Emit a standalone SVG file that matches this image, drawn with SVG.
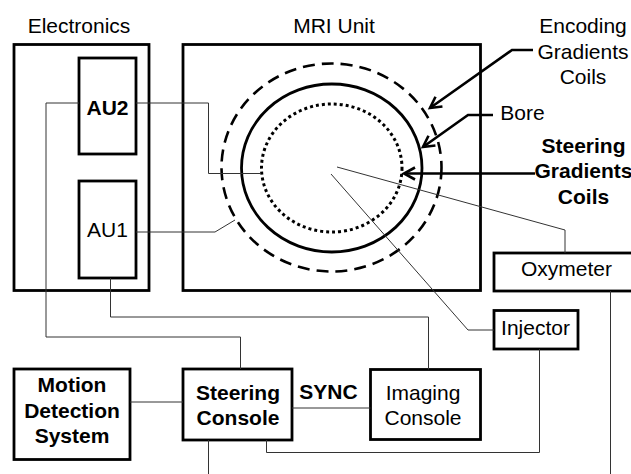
<svg xmlns="http://www.w3.org/2000/svg" width="631" height="474" viewBox="0 0 631 474">
<defs>
<style>
.box{fill:#fff;stroke:#000;stroke-width:2.8}
.t{font-family:"Liberation Sans",Arial,sans-serif;font-size:21px;fill:#000;text-anchor:middle}
.b{font-weight:bold}
.c{fill:none;stroke:#333;stroke-width:1}
.a{fill:none;stroke:#000;stroke-width:2.6}
</style>
<marker id="ah" markerUnits="userSpaceOnUse" markerWidth="16" markerHeight="16" viewBox="-13 -8 16 16" refX="0" refY="0" orient="auto">
<path d="M-11,-6 L0,0 L-11,6" fill="none" stroke="#000" stroke-width="2.6"/>
</marker>
</defs>
<rect width="631" height="474" fill="#fff"/>
<g id="electronics">
<rect class="box" x="14" y="44.5" width="135" height="246"/>
<text class="t" x="79" y="33">Electronics</text>
</g>
<g id="mri-unit">
<rect class="box" x="183" y="44.5" width="297.5" height="246"/>
<text class="t" x="334" y="33">MRI Unit</text>
<ellipse cx="331.5" cy="167.5" rx="110" ry="104" fill="none" stroke="#000" stroke-width="2.6" stroke-dasharray="12 7"/>
<ellipse cx="331.75" cy="168" rx="90.25" ry="84" fill="none" stroke="#000" stroke-width="2.8"/>
<ellipse cx="331.75" cy="168" rx="70.25" ry="64" fill="none" stroke="#000" stroke-width="3" stroke-dasharray="3 3"/>
</g>
<g id="au2">
<rect class="box" x="79" y="58" width="57" height="96"/>
<text class="t b" x="107.5" y="114.5">AU2</text>
</g>
<g id="au1">
<rect class="box" x="79" y="181" width="57" height="97"/>
<text class="t" x="107.5" y="237">AU1</text>
</g>
<g id="oxymeter">
<rect class="box" x="494" y="253" width="200" height="38"/>
<text class="t" x="566.5" y="276">Oxymeter</text>
</g>
<g id="injector">
<rect class="box" x="494" y="310.5" width="84" height="38.5"/>
<text class="t" x="535.5" y="335">Injector</text>
</g>
<g id="motion-detection">
<rect class="box" x="14" y="369" width="116" height="90.5"/>
<text class="t b" x="72" y="392">Motion</text>
<text class="t b" x="72" y="418">Detection</text>
<text class="t b" x="72" y="443">System</text>
</g>
<g id="steering-console">
<rect class="box" x="183" y="369" width="109" height="71"/>
<text class="t b" x="238" y="400">Steering</text>
<text class="t b" x="238" y="425">Console</text>
</g>
<g id="imaging-console">
<rect class="box" x="370.5" y="369.5" width="110" height="70"/>
<text class="t" x="423" y="400">Imaging</text>
<text class="t" x="423" y="425">Console</text>
</g>
<g id="labels">
<text class="t" x="583" y="33">Encoding</text>
<text class="t" x="583" y="58.5">Gradients</text>
<text class="t" x="583" y="84">Coils</text>
<text class="t" x="522.5" y="120">Bore</text>
<text class="t b" x="583.5" y="153">Steering</text>
<text class="t b" x="583.5" y="178">Gradients</text>
<text class="t b" x="583.5" y="204">Coils</text>
<text class="t b" x="328.5" y="399">SYNC</text>
</g>
<g id="connectors">
<path class="c" d="M79,103 H46 V337 H240.5 V369"/>
<path class="c" d="M136,103 H208.5 V173.5 H261"/>
<path class="c" d="M136,232 H215 L235,220"/>
<path class="c" d="M110.5,278 V317 H428.5 V369.5"/>
<path class="c" d="M337,167 L565,230 V253"/>
<path class="c" d="M331,174 L468,330 H494"/>
<path class="c" d="M539.5,349 V452.5 H266.5 V440"/>
<path class="c" d="M610.5,291 V474"/>
<path class="c" d="M208.5,440 V474"/>
<path class="c" d="M130,402 H183"/>
<path class="c" d="M292,408 H370.5"/>
<path class="a" d="M533,50 H512 L430,108" marker-end="url(#ah)"/>
<path class="a" d="M493,115 H468 L423,147" marker-end="url(#ah)"/>
<path class="a" d="M535,173.5 H404" marker-end="url(#ah)"/>
</g>
</svg>
